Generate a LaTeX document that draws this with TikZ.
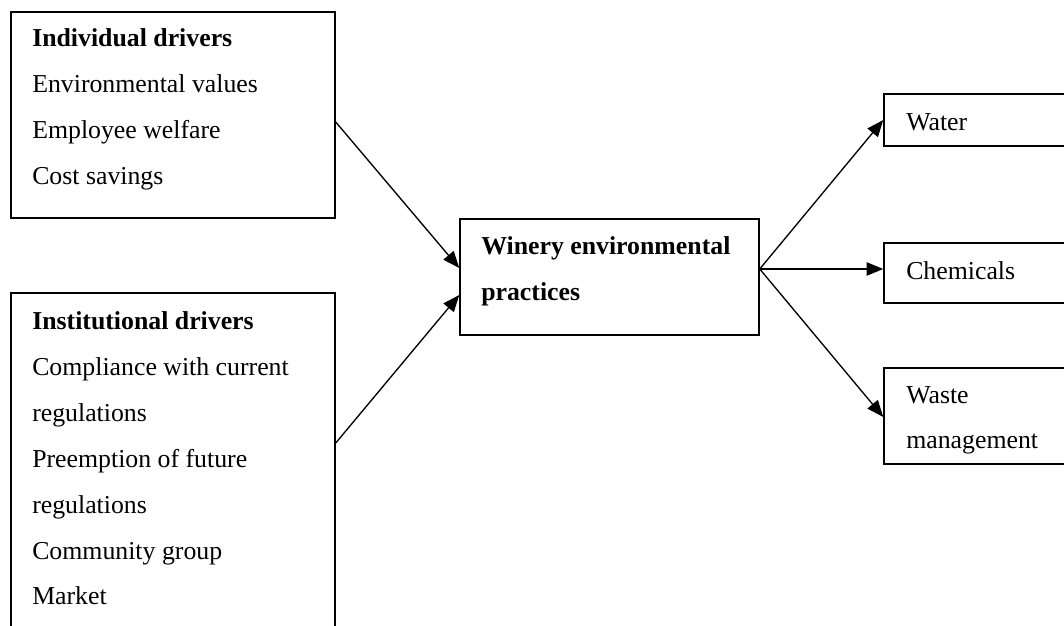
\documentclass[tikz,border=0pt]{standalone}
\usepackage{fontspec}
\setmainfont{Liberation Serif}
\usetikzlibrary{arrows.meta}
\tikzset{
  box/.style={draw, line width=1.1pt, inner sep=0pt},
  txt/.style={anchor=base west, inner sep=0pt, font=\fontsize{19.35pt}{23pt}\selectfont},
  htxt/.style={txt, font=\fontsize{19.35pt}{23pt}\selectfont\bfseries},
  conn/.style={line width=1pt, -{Triangle[length=12.5pt,width=10pt]}}
}
\begin{document}
\begin{tikzpicture}[x=0.75pt,y=-0.75pt]
\useasboundingbox (0,0) rectangle (1064,625);
\clip (0,0) rectangle (1064,625);
% boxes
\node[box, minimum width=324*0.75pt, minimum height=206*0.75pt] (ind) at (173,115) {};
\node[box, minimum width=324*0.75pt, minimum height=360*0.75pt] (inst) at (173,473) {};
\node[box, minimum width=299*0.75pt, minimum height=116*0.75pt] (win) at (609.5,277) {};
\node[box, minimum width=220*0.75pt, minimum height=52*0.75pt] (water) at (994,120) {};
\node[box, minimum width=220*0.75pt, minimum height=60*0.75pt] (chem) at (994,273) {};
\node[box, minimum width=220*0.75pt, minimum height=96*0.75pt] (waste) at (994,416) {};
% texts
\node[htxt] (i0) at (32,46) {Individual drivers};
\node[txt] (i1) at (32,92) {Environmental values};
\node[txt] (i2) at (32,138) {Employee welfare};
\node[txt] (i3) at (32,184) {Cost savings};
\node[htxt] (n0) at (32,329) {Institutional drivers};
\node[txt] (n1) at (32,375) {Compliance with current};
\node[txt] (n2) at (32,421) {regulations};
\node[txt] (n3) at (32,467) {Preemption of future};
\node[txt] (n4) at (32,513) {regulations};
\node[txt] (n5) at (32,559) {Community group};
\node[txt] (n6) at (32,604) {Market};
\node[htxt] (w0) at (481,254) {Winery environmental};
\node[htxt] (w1) at (481,300) {practices};
\node[txt] (o1) at (906,130) {Water};
\node[txt] (o2) at (906,279) {Chemicals};
\node[txt] (o3) at (906,403) {Waste};
\node[txt] (o4) at (906,448) {management};
% connector points
\coordinate (a1) at (ind.east |- 0,122);
\coordinate (a2) at (inst.east |- 0,443);
\coordinate (b1) at (win.west |- 0,268);
\coordinate (b2) at (win.west |- 0,295);
\coordinate (c0) at (win.east |- 0,269);
\coordinate (d1) at (water.west |- 0,120);
\coordinate (d2) at (chem.west |- 0,269);
\coordinate (d3) at (waste.west |- 0,417);
\draw[conn] (a1) -- (b1);
\draw[conn] (a2) -- (b2);
\draw[conn] (c0) -- (d1);
\draw[conn] (c0) -- (d2);
\draw[conn] (c0) -- (d3);
\end{tikzpicture}
\end{document}
